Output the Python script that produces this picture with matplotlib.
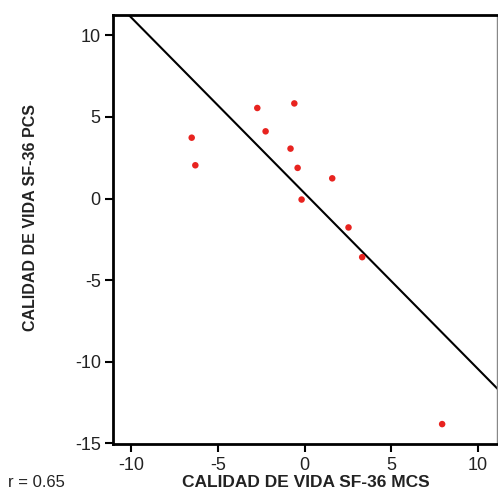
import matplotlib
matplotlib.use("Agg")
import matplotlib.pyplot as plt
from matplotlib import font_manager

# values
mcs = [-6.52, -6.31, -2.73, -0.59, -2.25, -0.81, -0.40, 1.60, -0.17, 2.54, 3.33, 7.95]
pcs = [3.73, 2.04, 5.55, 5.83, 4.12, 3.06, 1.88, 1.24, -0.06, -1.77, -3.59, -13.82]
line_slope = -1.075
line_intercept = 0.33
xticks = [-10, -5, 0, 5, 10]
yticks = [-15, -10, -5, 0, 5, 10]
r_text = "r = 0.65"


def main():
    names = {f.name for f in font_manager.fontManager.ttflist}
    fam = "Liberation Sans Narrow" if "Liberation Sans Narrow" in names else "Liberation Sans"
    plt.rcParams['font.family'] = [fam, 'DejaVu Sans']
    plt.rcParams['axes.unicode_minus'] = False

    fig = plt.figure(figsize=(4.98, 4.99), dpi=100)
    ax = fig.add_axes([0.2275, 0.1102, 0.7705, 0.8598])

    xlim = (-11.05, 11.12)
    ylim = (-15.04, 11.25)
    xs = [xlim[0], xlim[1]]
    ax.plot(xs, [line_intercept + line_slope * x for x in xs], color='black', lw=1.5)
    ax.scatter(mcs, pcs, s=22, color='#e8231f', edgecolors='none', zorder=3)

    ax.set_xlim(*xlim)
    ax.set_ylim(*ylim)
    ax.set_xticks(xticks)
    ax.set_yticks(yticks)
    ax.tick_params(direction='out', length=6, width=1.5, labelsize=13, colors='black', pad=3)
    for lbl in ax.get_xticklabels() + ax.get_yticklabels():
        lbl.set_color('#222222')

    for side in ['left', 'bottom', 'top']:
        ax.spines[side].set_linewidth(2)
    ax.spines['right'].set_linewidth(1)
    ax.spines['right'].set_color('#888888')

    fig.text(0.615, 0.018, "CALIDAD DE VIDA SF-36 MCS", ha='center', va='bottom',
             fontsize=12.5, fontweight='bold', color='#222222')
    fig.text(0.062, 0.565, "CALIDAD DE VIDA SF-36 PCS", ha='center', va='center',
             rotation=90, fontsize=11.5, fontweight='bold', color='#222222')
    fig.text(0.016, 0.018, r_text, ha='left', va='bottom', fontsize=12, color='#222222')

    fig.savefig("out.png", dpi=100)


if __name__ == "__main__":
    main()
